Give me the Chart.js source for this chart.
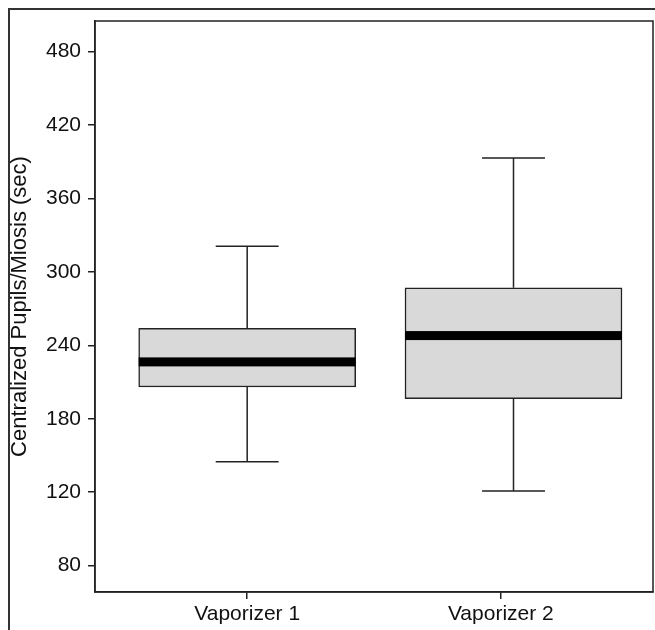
<!DOCTYPE html>
<html>
<head>
<meta charset="utf-8">
<script src="https://cdn.jsdelivr.net/npm/chart.js@4.4.1/dist/chart.umd.min.js"></script>
<style>
  body { margin: 0; background: #fff; }
  canvas { display: block; }
</style>
</head>
<body>
<canvas id="chart" width="655" height="630"></canvas>
<script>
// data
const categories = ["Vaporizer 1", "Vaporizer 2"]
const positions = [1, 2.05]
const whiskerLow = [145, 121]
const q1 = [206, 196.5]
const median = [226.5, 248]
const q3 = [254, 287]
const whiskerHigh = [321, 393]
const tickValues = [60, 120, 180, 240, 300, 360, 420, 480]
const tickLabels = ["80", "120", "180", "240", "300", "360", "420", "480"]

const ink = "#222"
const fontFamily = "'Liberation Sans', Arial, sans-serif"

// whiskers, caps and median bands drawn on top of the floating bars
const boxParts = {
  id: "boxParts",
  afterDatasetsDraw(chart) {
    const { ctx } = chart
    const y = chart.scales.y
    const meta = chart.getDatasetMeta(0)
    meta.data.forEach((bar, i) => {
      const x = bar.x
      const half = bar.width / 2
      const cap = half * 0.29
      const yHi = y.getPixelForValue(whiskerHigh[i])
      const yLo = y.getPixelForValue(whiskerLow[i])
      const yQ3 = y.getPixelForValue(q3[i])
      const yQ1 = y.getPixelForValue(q1[i])
      const yMed = y.getPixelForValue(median[i])
      ctx.save()
      ctx.strokeStyle = ink
      ctx.lineWidth = 1.5
      ctx.beginPath()
      ctx.moveTo(x, yQ3); ctx.lineTo(x, yHi)
      ctx.moveTo(x - cap, yHi); ctx.lineTo(x + cap, yHi)
      ctx.moveTo(x, yQ1); ctx.lineTo(x, yLo)
      ctx.moveTo(x - cap, yLo); ctx.lineTo(x + cap, yLo)
      ctx.stroke()
      ctx.fillStyle = "#000"
      ctx.fillRect(x - half, yMed - 4.5, half * 2, 9)
      ctx.restore()
    })
  }
}

// plot box and the outer figure frame
const frames = {
  id: "frames",
  afterDraw(chart) {
    const { ctx, chartArea: a } = chart
    ctx.save()
    ctx.strokeStyle = ink
    ctx.lineWidth = 1.5
    ctx.strokeRect(a.left, a.top, a.right - a.left, a.bottom - a.top)
    ctx.strokeStyle = "#333"
    ctx.lineWidth = 2
    ctx.beginPath()
    ctx.moveTo(9, chart.height)
    ctx.lineTo(9, 9)
    ctx.lineTo(chart.width, 9)
    ctx.stroke()
    ctx.restore()
  }
}

new Chart(document.getElementById("chart"), {
  type: "bar",
  data: {
    datasets: [{
      data: positions.map((p, i) => ({ x: p, y: [q1[i], q3[i]] })),
      backgroundColor: "#d9d9d9",
      borderColor: ink,
      borderWidth: 1.5,
      borderSkipped: false,
      barThickness: 217
    }]
  },
  options: {
    responsive: false,
    animation: false,
    layout: { padding: { top: 21, right: 2, left: 0, bottom: 0 } },
    plugins: { legend: { display: false }, tooltip: { enabled: false } },
    scales: {
      x: {
        type: "linear",
        offset: false,
        min: 0.4,
        max: 2.6,
        afterFit: (s) => { s.height = 38 },
        afterBuildTicks: (s) => { s.ticks = [1, 2].map((v) => ({ value: v })) },
        grid: { offset: false, drawOnChartArea: false, tickLength: 7, color: ink, lineWidth: 1.5 },
        border: { color: ink, width: 1.5 },
        ticks: {
          callback: (v) => categories[v - 1],
          color: "#111",
          padding: 3,
          maxRotation: 0,
          font: { family: fontFamily, size: 21 }
        }
      },
      y: {
        min: 38.5,
        max: 505,
        afterFit: (s) => { s.width = 95 },
        afterBuildTicks: (s) => { s.ticks = tickValues.map((v) => ({ value: v })) },
        grid: { drawOnChartArea: false, tickLength: 7, color: ink, lineWidth: 1.5 },
        border: { color: ink, width: 1.5 },
        ticks: {
          callback: (v) => tickLabels[tickValues.indexOf(v)],
          color: "#111",
          padding: 7,
          font: { family: fontFamily, size: 21 }
        },
        title: {
          display: true,
          text: "Centralized Pupils/Miosis (sec)",
          color: "#111",
          padding: { top: 7, bottom: 0 },
          font: { family: fontFamily, size: 22 }
        }
      }
    }
  },
  plugins: [boxParts, frames]
})
</script>
</body>
</html>
